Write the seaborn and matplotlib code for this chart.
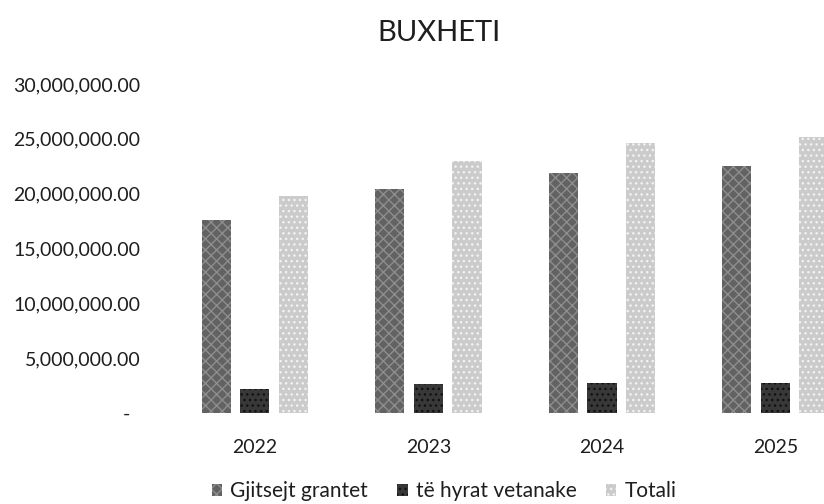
import matplotlib
matplotlib.use("Agg")
import matplotlib.pyplot as plt
from matplotlib.ticker import FuncFormatter
from matplotlib.patches import Patch
import seaborn as sns
import pandas as pd

years = ['2022', '2023', '2024', '2025']
series = ['Gjitsejt grantet', 'të hyrat vetanake', 'Totali']
grantet = [17600000, 20400000, 21900000, 22500000]
vetanake = [2200000, 2600000, 2700000, 2700000]
totali = [19800000, 23000000, 24600000, 25200000]
y_ticks = [0, 5000000, 10000000, 15000000, 20000000, 25000000, 30000000]

df = pd.DataFrame({
    'viti': years * 3,
    'seria': [s for s in series for _ in years],
    'vlera': grantet + vetanake + totali,
})

sns.set_theme(style='white')
plt.rcParams['font.family'] = ['Lato', 'DejaVu Sans']

fig = plt.figure(figsize=(8.24, 5.04), dpi=100)
ax = fig.add_axes([168 / 824, 91 / 504, 1 - 168 / 824, 329 / 504])

colors = ['#626262', '#383838', '#cbcbcb']
sns.barplot(data=df, x='viti', y='vlera', hue='seria', hue_order=series,
            palette=colors, width=0.667, gap=0.24, ax=ax, legend=False,
            saturation=1)

# dithered look of the scanned original
hatches = ['xxx', '...', '...']
edge = ['#8e8e8e', '#111111', '#f2f2f2']
for i, cont in enumerate(ax.containers):
    for bar in cont:
        bar.set_hatch(hatches[i])
        bar.set_edgecolor(edge[i])
        bar.set_linewidth(0)

ax.set_xlim(-0.5, 3.28)
ax.set_ylim(0, 30000000)
ax.set_yticks(y_ticks)
ax.yaxis.set_major_formatter(FuncFormatter(
    lambda v, p: '-  ' if v == 0 else f'{v:,.2f}'))
ax.tick_params(axis='y', length=0, pad=20, labelsize=14, colors='#1e1e1e')
ax.tick_params(axis='x', length=0, pad=19, labelsize=14, colors='#1e1e1e')
ax.set_xlabel('')
ax.set_ylabel('')
for s in ax.spines.values():
    s.set_visible(False)

fig.text(439 / 824, 1 - 33 / 504, 'BUXHETI', ha='center', va='center',
         fontsize=21, color='#1e1e1e')

handles = [Patch(facecolor=colors[i], edgecolor=edge[i], hatch=hatches[i],
                 linewidth=0) for i in range(3)]
fig.legend(handles, series, loc='center', bbox_to_anchor=(444 / 824, 1 - 491 / 504),
           ncol=3, frameon=False, fontsize=15, handlelength=0.5,
           handleheight=0.5, handletextpad=0.4, columnspacing=1.4,
           labelcolor='#1e1e1e')

fig.savefig('out.png', dpi=100)
